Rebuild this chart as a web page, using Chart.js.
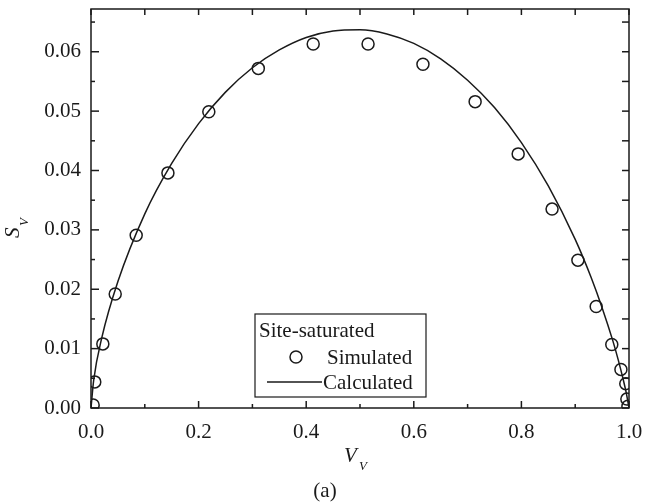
<!DOCTYPE html>
<html>
<head>
<meta charset="utf-8">
<script src="https://cdn.jsdelivr.net/npm/chart.js@4/dist/chart.umd.min.js"></script>
<style>
  html, body { margin: 0; padding: 0; background: #fff; }
  #wrap { width: 645px; height: 502px; }
</style>
</head>
<body>
<div id="wrap"><canvas id="chart" width="645" height="502"></canvas></div>
<script>
// シミュレーション値（丸印）
const simX = [0.004, 0.007, 0.022, 0.045, 0.084, 0.143, 0.219, 0.311, 0.413, 0.515, 0.617, 0.714, 0.794, 0.857, 0.905, 0.939, 0.968, 0.985, 0.994, 0.996, 0.998];
const simY = [0.0005, 0.0044, 0.0108, 0.0192, 0.0291, 0.0396, 0.0499, 0.0572, 0.0613, 0.0613, 0.0579, 0.0516, 0.0428, 0.0335, 0.0249, 0.0171, 0.0107, 0.0065, 0.0041, 0.0015, 0.0003];
// 計算値（実線）
const calcX = [0, 0.005, 0.02, 0.05, 0.1, 0.15, 0.2, 0.25, 0.3, 0.35, 0.4, 0.45, 0.5, 0.55, 0.6, 0.65, 0.7, 0.75, 0.8, 0.85, 0.9, 0.93, 0.95, 0.97, 0.98, 0.99, 0.995, 1.0];
const calcY = [0, 0.0047, 0.0118, 0.0213, 0.0327, 0.0412, 0.0479, 0.0532, 0.0573, 0.0603, 0.0624, 0.0635, 0.0637, 0.0630, 0.0614, 0.0588, 0.0552, 0.0506, 0.0447, 0.0374, 0.0284, 0.0219, 0.0169, 0.0113, 0.0081, 0.0045, 0.0025, 0];
// 目盛り
const xMajorTicks = [0, 0.2, 0.4, 0.6, 0.8, 1.0];
const xMinorTicks = [0.1, 0.3, 0.5, 0.7, 0.9];
const yMajorTicks = [0, 0.01, 0.02, 0.03, 0.04, 0.05, 0.06];
const yMinorTicks = [0.005, 0.015, 0.025, 0.035, 0.045, 0.055, 0.065];

const ink = '#1a1a1a';
const serif = "'Liberation Serif', 'DejaVu Serif', serif";

// 枠・内向き目盛り・凡例・軸タイトルを描画
const framePlugin = {
    id: 'framePlugin',
    afterDatasetsDraw(chart) {
        const { ctx, chartArea: a, scales: { x, y } } = chart;
        ctx.save();
        ctx.strokeStyle = ink;
        ctx.fillStyle = ink;
        ctx.lineWidth = 1.5;
        ctx.strokeRect(a.left, a.top, a.right - a.left, a.bottom - a.top);

        const seg = (x1, y1, x2, y2) => {
            ctx.beginPath(); ctx.moveTo(x1, y1); ctx.lineTo(x2, y2); ctx.stroke();
        };
        xMajorTicks.forEach(v => {
            const px = x.getPixelForValue(v);
            seg(px, a.bottom, px, a.bottom - 7);
            seg(px, a.top, px, a.top + 6);
        });
        xMinorTicks.forEach(v => {
            const px = x.getPixelForValue(v);
            seg(px, a.bottom, px, a.bottom - 4);
            seg(px, a.top, px, a.top + 6);
        });
        yMajorTicks.forEach(v => {
            const py = y.getPixelForValue(v);
            seg(a.left, py, a.left + 8, py);
            seg(a.right, py, a.right - 7, py);
        });
        yMinorTicks.forEach(v => {
            const py = y.getPixelForValue(v);
            seg(a.left, py, a.left + 4, py);
            seg(a.right, py, a.right - 7, py);
        });

        // 凡例
        ctx.lineWidth = 1.2;
        ctx.strokeRect(255, 314, 171, 83);
        ctx.font = '21px ' + serif;
        ctx.textBaseline = 'middle';
        ctx.textAlign = 'left';
        ctx.fillText('Site-saturated', 259, 331);
        ctx.lineWidth = 1.5;
        ctx.beginPath(); ctx.arc(296, 357, 6, 0, Math.PI * 2); ctx.stroke();
        ctx.fillText(chart.data.datasets[0].label, 327, 358);
        seg(267, 382, 322, 382);
        ctx.fillText(chart.data.datasets[1].label, 323, 383);

        // X軸タイトル V_V
        ctx.textBaseline = 'alphabetic';
        ctx.font = 'italic 21px ' + serif;
        ctx.fillText('V', 344, 462);
        ctx.font = 'italic 13px ' + serif;
        ctx.fillText('V', 359, 470);
        // (a)
        ctx.font = '21px ' + serif;
        ctx.textAlign = 'center';
        ctx.fillText('(a)', 325, 497);

        // Y軸タイトル S_V
        ctx.translate(19, 238);
        ctx.rotate(-Math.PI / 2);
        ctx.textAlign = 'left';
        ctx.font = 'italic 21px ' + serif;
        ctx.fillText('S', 0, 0);
        ctx.font = 'italic 13px ' + serif;
        ctx.fillText('V', 12, 9);
        ctx.restore();
    }
};

new Chart(document.getElementById('chart').getContext('2d'), {
    type: 'scatter',
    data: {
        datasets: [
            {
                label: 'Simulated',
                data: simX.map((v, i) => ({ x: v, y: simY[i] })),
                pointStyle: 'circle',
                pointRadius: 6,
                pointBorderWidth: 1.5,
                borderColor: ink,
                backgroundColor: 'rgba(0,0,0,0)',
                showLine: false,
            },
            {
                label: 'Calculated',
                data: calcX.map((v, i) => ({ x: v, y: calcY[i] })),
                showLine: true,
                pointRadius: 0,
                borderColor: ink,
                borderWidth: 1.5,
                cubicInterpolationMode: 'monotone',
                fill: false,
            }
        ]
    },
    options: {
        responsive: false,
        animation: false,
        layout: { autoPadding: false, padding: { top: 9, right: 16, left: 0, bottom: 0 } },
        plugins: {
            legend: { display: false },
            tooltip: { enabled: false }
        },
        scales: {
            x: {
                type: 'linear',
                min: 0,
                max: 1.0,
                afterFit: s => {
                    s.height = 94;
                    s.paddingLeft = 0; s.paddingRight = 0;
                },
                afterBuildTicks: s => { s.ticks = xMajorTicks.map(v => ({ value: v })); },
                grid: { display: false, drawTicks: false },
                border: { display: false },
                ticks: {
                    padding: 12,
                    color: ink,
                    font: { family: serif, size: 21 },
                    callback: v => v.toFixed(1)
                }
            },
            y: {
                type: 'linear',
                min: 0,
                max: 0.0672,
                afterFit: s => {
                    s.width = 91;
                    s.paddingTop = 0; s.paddingBottom = 0;
                },
                afterBuildTicks: s => { s.ticks = yMajorTicks.map(v => ({ value: v })); },
                grid: { display: false, drawTicks: false },
                border: { display: false },
                ticks: {
                    padding: 10,
                    color: ink,
                    font: { family: serif, size: 21 },
                    callback: v => v.toFixed(2)
                }
            }
        }
    },
    plugins: [framePlugin]
});
</script>
</body>
</html>
